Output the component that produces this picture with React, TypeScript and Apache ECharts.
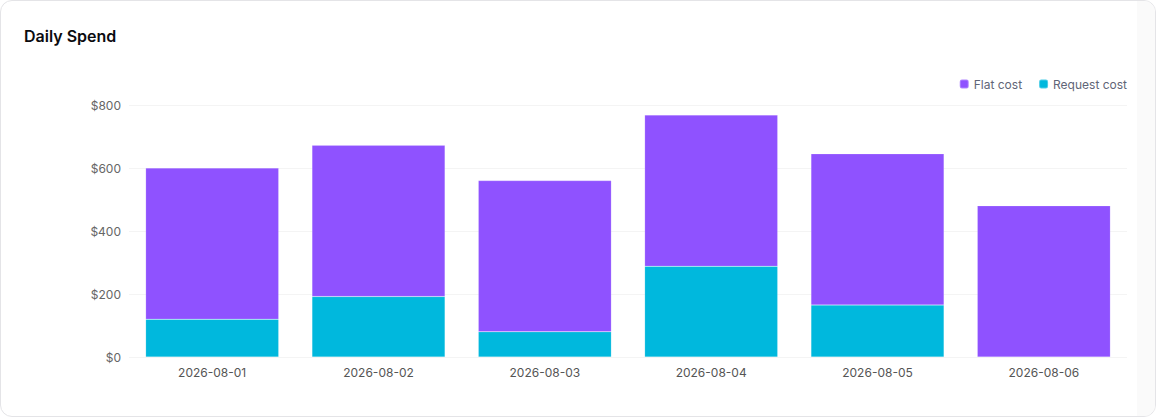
import React, { useEffect, useRef } from "react";
import * as echarts from "echarts";

const categories = ["2026-08-01", "2026-08-02", "2026-08-03", "2026-08-04", "2026-08-05", "2026-08-06"];
const requestCost = [120, 192, 80, 288, 165, 0];
const flatCost = [480, 480, 480, 480, 480, 480];
const yTicks = { min: 0, max: 800, interval: 200 };

const PURPLE = "#8f52ff";
const CYAN = "#00b8dd";
const FONT = "Inter, 'Noto Sans', sans-serif";

export default function App() {
  const ref = useRef<HTMLDivElement>(null);

  useEffect(() => {
    document.body.style.margin = "0";
    if (!ref.current) return;
    const chart = echarts.init(ref.current, undefined, { renderer: "svg" });
    chart.setOption({
      animation: false,
      textStyle: { fontFamily: FONT },
      title: {
        text: "Daily Spend",
        left: 23,
        top: 27,
        padding: 0,
        textStyle: { fontFamily: FONT, fontSize: 16, fontWeight: 600, color: "#0b0b0f" },
      },
      legend: {
        right: 28,
        top: 77,
        padding: 0,
        icon: "roundRect",
        itemWidth: 9,
        itemHeight: 9,
        itemGap: 16,
        textStyle: { fontFamily: FONT, fontSize: 12, color: "#5f6577" },
        data: ["Flat cost", "Request cost"],
      },
      grid: { left: 128, right: 28, top: 104, bottom: 59, containLabel: false },
      xAxis: {
        type: "category",
        data: categories,
        axisLine: { show: false },
        axisTick: { show: false },
        axisLabel: { color: "#555", fontSize: 12, fontFamily: FONT, margin: 9 },
      },
      yAxis: {
        type: "value",
        min: yTicks.min,
        max: yTicks.max,
        interval: yTicks.interval,
        axisLine: { show: false },
        axisTick: { show: false },
        axisLabel: {
          color: "#666",
          fontSize: 12,
          fontFamily: FONT,
          margin: 8,
          formatter: (v: number) => `$${v}`,
        },
        splitLine: { lineStyle: { color: "#f4f4f4", width: 1 } },
      },
      series: [
        {
          name: "Request cost",
          type: "bar",
          stack: "total",
          barWidth: "80%",
          data: requestCost,
          itemStyle: { color: CYAN, borderColor: "rgba(255,255,255,0.3)", borderWidth: 0.5 },
        },
        {
          name: "Flat cost",
          type: "bar",
          stack: "total",
          barWidth: "80%",
          data: flatCost,
          itemStyle: { color: PURPLE, borderColor: "rgba(255,255,255,0.3)", borderWidth: 0.5 },
        },
      ],
    });
    return () => chart.dispose();
  }, []);

  return (
    <div
      style={{
        position: "relative",
        width: 1156,
        height: 417,
        boxSizing: "border-box",
        border: "1px solid #e4e4e7",
        borderRadius: 12,
        background: "#fff",
        overflow: "hidden",
      }}
    >
      <div
        style={{
          position: "absolute",
          left: 1136,
          top: 0,
          width: 20,
          height: "100%",
          background: "#fafafa",
        }}
      />
      <div ref={ref} style={{ position: "absolute", left: 0, top: 0, width: 1154, height: 415 }} />
    </div>
  );
}
